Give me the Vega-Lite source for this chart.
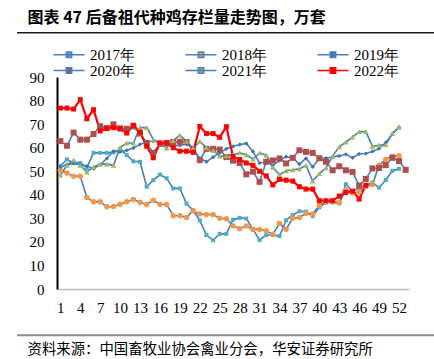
{
  "$schema": "https://vega.github.io/schema/vega-lite/v6.json",
  "width": 352,
  "height": 212,
  "autosize": {"type": "none"},
  "padding": {"left": 57, "top": 77, "right": 25, "bottom": 70},
  "background": "white",
  "config": {"view": {"stroke": null}, "font": "Liberation Serif"},
  "datasets": {
    "weekly": [
    {"wk": 1, "2017年": 52.2, "2018年": 50.4, "2019年": 51.8, "2020年": 62.8, "2021年": 48.3, "2022年": 76.8},
    {"wk": 2, "2017年": 55, "2018年": 49.2, "2019年": 52.8, "2020年": 60.8, "2021年": 52.5, "2022年": 76.8},
    {"wk": 3, "2017年": 53.5, "2018年": 47.9, "2019年": 53.3, "2020年": 66.4, "2021年": 54.7, "2022年": 76.4},
    {"wk": 4, "2017年": 53.5, "2018年": 47.9, "2019年": 52.8, "2020年": 63.4, "2021年": 52.5, "2022年": 80.4},
    {"wk": 5, "2017年": 51.5, "2018年": 38.8, "2019年": 52.2, "2020年": 63.4, "2021年": 49.7, "2022年": 72.3},
    {"wk": 6, "2017年": 57.8, "2018年": 37, "2019年": 51.1, "2020年": 65.8, "2021年": 51.8, "2022年": 76.1},
    {"wk": 7, "2017年": 57.8, "2018年": 37, "2019年": 52.8, "2020年": 69.1, "2021年": 53, "2022年": 67.1},
    {"wk": 8, "2017年": 57.8, "2018年": 34.9, "2019年": 55.4, "2020年": 68.3, "2021年": 53, "2022年": 68.2},
    {"wk": 9, "2017年": 58, "2018年": 35, "2019年": 58.5, "2020年": 69.9, "2021年": 52.5, "2022年": 68.5},
    {"wk": 10, "2017年": 59.3, "2018年": 36, "2019年": 58.2, "2020年": 68.2, "2021年": 60, "2022年": 68},
    {"wk": 11, "2017年": 56.8, "2018年": 37, "2019年": 58.9, "2020年": 68, "2021年": 62, "2022年": 66.2},
    {"wk": 12, "2017年": 54.2, "2018年": 38, "2019年": 59.9, "2020年": 69, "2021年": 62, "2022年": 69.5},
    {"wk": 13, "2017年": 54, "2018年": 36.8, "2019年": 61.4, "2020年": 66, "2021年": 68.5, "2022年": 66.6},
    {"wk": 14, "2017年": 43.4, "2018年": 35.9, "2019年": 62.4, "2020年": 62, "2021年": 68.5, "2022年": 60.6},
    {"wk": 15, "2017年": 46.2, "2018年": 37.7, "2019年": 62.8, "2020年": 57.8, "2021年": 63.5, "2022年": 55.7},
    {"wk": 16, "2017年": 48.6, "2018年": 36, "2019年": 62.2, "2020年": 61.6, "2021年": 62, "2022年": 62},
    {"wk": 17, "2017年": 47, "2018年": 35.9, "2019年": 61.3, "2020年": 62, "2021年": 59.8, "2022年": 62},
    {"wk": 18, "2017年": 42.7, "2018年": 31.1, "2019年": 60.5, "2020年": 62.4, "2021年": 63, "2022年": 60},
    {"wk": 19, "2017年": 42.7, "2018年": 31.1, "2019年": 61, "2020年": 62.5, "2021年": 65.3, "2022年": 58.5},
    {"wk": 20, "2017年": 36.2, "2018年": 30.4, "2019年": 61.5, "2020年": 62.4, "2021年": 62.7, "2022年": 58.5},
    {"wk": 21, "2017年": 33.4, "2018年": 33.2, "2019年": 59.5, "2020年": 59.5, "2021年": 59.6, "2022年": 58},
    {"wk": 22, "2017年": 29.1, "2018年": 31.8, "2019年": 55.5, "2020年": 54.7, "2021年": 62.7, "2022年": 69},
    {"wk": 23, "2017年": 22.9, "2018年": 31.6, "2019年": 54, "2020年": 59.5, "2021年": 60, "2022年": 66},
    {"wk": 24, "2017年": 20.7, "2018年": 31.6, "2019年": 56, "2020年": 59.5, "2021年": 58.9, "2022年": 66},
    {"wk": 25, "2017年": 23.4, "2018年": 30, "2019年": 57.8, "2020年": 59.2, "2021年": 56.4, "2022年": 64.4},
    {"wk": 26, "2017年": 23.4, "2018年": 29.8, "2019年": 59.5, "2020年": 56, "2021年": 56.5, "2022年": 68.9},
    {"wk": 27, "2017年": 29.4, "2018年": 26.8, "2019年": 60.5, "2020年": 54.5, "2021年": 57, "2022年": 56.2},
    {"wk": 28, "2017年": 30.2, "2018年": 25.7, "2019年": 61.3, "2020年": 53.5, "2021年": 57.8, "2022年": 55},
    {"wk": 29, "2017年": 29.9, "2018年": 26.7, "2019年": 61.8, "2020年": 48.7, "2021年": 57, "2022年": 53.5},
    {"wk": 30, "2017年": 25.3, "2018年": 25.4, "2019年": 58.4, "2020年": 49.8, "2021年": 55.2, "2022年": 52.5},
    {"wk": 31, "2017年": 20.8, "2018年": 25.3, "2019年": 53.4, "2020年": 45.5, "2021年": 57.8, "2022年": 50},
    {"wk": 32, "2017年": 22.9, "2018年": 24.7, "2019年": 54, "2020年": 54, "2021年": 56.8, "2022年": 48},
    {"wk": 33, "2017年": 22.9, "2018年": 23.3, "2019年": 52.5, "2020年": 54.6, "2021年": 51.7, "2022年": 44.2},
    {"wk": 34, "2017年": 22.5, "2018年": 27.8, "2019年": 54.5, "2020年": 55.4, "2021年": 48.5, "2022年": 46.5},
    {"wk": 35, "2017年": 29.2, "2018年": 25.4, "2019年": 56.2, "2020年": 53.3, "2021年": 50.2, "2022年": 46.2},
    {"wk": 36, "2017年": 31.4, "2018年": 30, "2019年": 55.6, "2020年": 55.7, "2021年": 50.6, "2022年": 45.8},
    {"wk": 37, "2017年": 33, "2018年": 30.4, "2019年": 53, "2020年": 58.9, "2021年": 51, "2022年": 43.4},
    {"wk": 38, "2017年": 32.8, "2018年": 32.1, "2019年": 55.5, "2020年": 58.2, "2021年": 52.5, "2022年": 42.4},
    {"wk": 39, "2017年": 30.9, "2018年": 31.8, "2019年": 51.8, "2020年": 57.8, "2021年": 45.8, "2022年": 42.4},
    {"wk": 40, "2017年": 34.7, "2018年": 35.5, "2019年": 55.5, "2020年": 55.5, "2021年": 49, "2022年": 37.5},
    {"wk": 41, "2017年": 36.7, "2018年": 37, "2019年": 55.6, "2020年": 54, "2021年": 51.4, "2022年": 37.5},
    {"wk": 42, "2017年": 36.7, "2018年": 37, "2019年": 56, "2020年": 50.4, "2021年": 56.4, "2022年": 37.5},
    {"wk": 43, "2017年": 36.3, "2018年": 36.8, "2019年": 56.5, "2020年": 52.1, "2021年": 60.4, "2022年": 39.4},
    {"wk": 44, "2017年": 44.5, "2018年": 42, "2019年": 57.2, "2020年": 50.4, "2021年": 62.4, "2022年": 41},
    {"wk": 45, "2017年": 41.5, "2018年": 40.8, "2019年": 55.7, "2020年": 49.7, "2021年": 64.5, "2022年": 41.5},
    {"wk": 46, "2017年": 43, "2018年": 41.2, "2019年": 57.4, "2020年": 43.9, "2021年": 66.8, "2022年": 38.2},
    {"wk": 47, "2017年": 44, "2018年": 43.5, "2019年": 57.5, "2020年": 46.7, "2021年": 66.8, "2022年": 44},
    {"wk": 48, "2017年": 45.2, "2018年": 44.4, "2019年": 58.4, "2020年": 51.2, "2021年": 60.6},
    {"wk": 49, "2017年": 43, "2018年": 52.5, "2019年": 59.6, "2020年": 51.4, "2021年": 61},
    {"wk": 50, "2017年": 46.3, "2018年": 55, "2019年": 62.2, "2020年": 52.6, "2021年": 61.3},
    {"wk": 51, "2017年": 50.2, "2018年": 56.4, "2019年": 65.8, "2020年": 55.7, "2021年": 66.1},
    {"wk": 52, "2017年": 51, "2018年": 56.6, "2019年": 68.7, "2020年": 54.3, "2021年": 68.6},
    {"wk": 53, "2020年": 50.6}
    ],
    "frame": [{"line": "source"}],
    "frame2": [{"line": "heading"}]
  },
  "layer": [
    {
      "data": {"name": "weekly"},
      "transform": [
        {"fold": ["2017年", "2018年", "2019年", "2020年", "2021年", "2022年"], "as": ["year", "value"]},
        {"filter": "isValid(datum.value)"}
      ],
      "encoding": {
        "x": {"field": "wk", "type": "quantitative",
          "scale": {"domain": [0.5, 53.5], "nice": false, "zero": false},
          "axis": {
            "values": [1, 4, 7, 10, 13, 16, 19, 22, 25, 28, 31, 34, 37, 40, 43, 46, 49, 52],
            "ticks": false, "grid": false, "domain": true, "domainColor": "#BFBFBF", "domainWidth": 1.5,
            "labelFont": "Liberation Serif", "labelFontSize": 15, "labelColor": "#000000", "labelPadding": 11,
            "labelFlush": false, "labelOverlap": false,
            "title": "资料来源：中国畜牧业协会禽业分会，华安证券研究所",
            "titleFont": "Noto Sans CJK SC", "titleFontSize": 14.4, "titleFontWeight": "normal", "titleColor": "#000000",
            "titleAnchor": "start", "titleAlign": "left", "titleX": -30, "titleY": 64, "titleBaseline": "alphabetic"
          }
        },
        "y": {"field": "value", "type": "quantitative",
          "scale": {"domain": [0, 90], "nice": false, "zero": true},
          "axis": {
            "values": [0, 10, 20, 30, 40, 50, 60, 70, 80, 90],
            "ticks": false, "grid": false, "domain": true, "domainColor": "#000000", "domainWidth": 2,
            "labelFont": "Liberation Serif", "labelFontSize": 15, "labelColor": "#000000", "labelPadding": 13,
            "title": "图表 47  后备祖代种鸡存栏量走势图，万套",
            "titleFont": "Noto Sans CJK SC", "titleFontSize": 16, "titleFontWeight": "bold", "titleColor": "#000000",
            "titleAngle": 0, "titleAnchor": "start", "titleAlign": "left", "titleBaseline": "alphabetic",
            "titleX": -30, "titleY": -55
          }
        }
      },
      "layer": [
        {
          "transform": [{"filter": "datum.year !== '2022年'"}],
          "mark": {"type": "line", "color": "#4A7EBB", "strokeWidth": 1.6},
          "encoding": {"detail": {"field": "year", "type": "nominal"}}
        },
        {
          "transform": [{"filter": "datum.year === '2022年'"}],
          "mark": {"type": "line", "color": "#FF0000", "strokeWidth": 2.2}
        },
        {
          "transform": [{"filter": "datum.year === '2017年'"}],
          "mark": {"type": "point", "filled": true, "opacity": 1, "shape": "square", "size": 16},
          "encoding": {"color": {"field": "year", "type": "nominal"}}
        },
        {
          "transform": [{"filter": "datum.year === '2018年'"}],
          "mark": {"type": "point", "filled": true, "opacity": 1, "shape": "circle", "size": 30},
          "encoding": {"color": {"field": "year", "type": "nominal"}}
        },
        {
          "transform": [{"filter": "datum.year === '2019年'"}],
          "mark": {"type": "point", "filled": true, "opacity": 1, "shape": "diamond", "size": 18},
          "encoding": {"color": {"field": "year", "type": "nominal"}}
        },
        {
          "transform": [{"filter": "datum.year === '2020年'"}],
          "mark": {"type": "point", "filled": true, "opacity": 1, "shape": "square", "size": 36},
          "encoding": {"color": {"field": "year", "type": "nominal"}}
        },
        {
          "transform": [{"filter": "datum.year === '2021年'"}],
          "mark": {"type": "point", "filled": true, "opacity": 1, "shape": "triangle-up", "size": 32},
          "encoding": {"color": {"field": "year", "type": "nominal"}}
        },
        {
          "transform": [{"filter": "datum.year === '2022年'"}],
          "mark": {"type": "point", "filled": true, "opacity": 1, "shape": "square", "size": 25},
          "encoding": {"color": {"field": "year", "type": "nominal",
            "scale": {"domain": ["2017年", "2018年", "2019年", "2020年", "2021年", "2022年"],
                      "range": ["#4BACC6", "#F79646", "#3F73B8", "#AE4F4D", "#9BBB59", "#FF0000"]},
            "legend": {
              "orient": "none", "legendX": 4.5, "legendY": -30, "columns": 3, "direction": "horizontal",
              "title": null, "padding": 0,
              "symbolType": "M-3.1,0H3.1M-0.55,-0.55H0.55V0.55H-0.55Z", "symbolSize": 100,
              "symbolStrokeWidth": 1.4,
              "symbolStrokeColor": {"expr": "datum.value === '2022年' ? '#FF0000' : '#4A7EBB'"},
              "labelOffset": 13.5, "columnPadding": 47, "rowPadding": -1,
              "labelFont": "Liberation Serif", "labelFontSize": 15, "labelColor": "#000000"
            }
          }}
        }
      ]
    },
    {
      "data": {"name": "frame"},
      "mark": {"type": "rule", "clip": false, "color": "#8C8C8C", "strokeWidth": 2},
      "encoding": {
        "x": {"datum": -5.52, "type": "quantitative",
          "axis": {
            "values": [1, 4, 7, 10, 13, 16, 19, 22, 25, 28, 31, 34, 37, 40, 43, 46, 49, 52],
            "ticks": false, "grid": false, "domain": true, "domainColor": "#BFBFBF", "domainWidth": 1.5,
            "labelFont": "Liberation Serif", "labelFontSize": 15, "labelColor": "#000000", "labelPadding": 11,
            "labelFlush": false, "labelOverlap": false,
            "title": "资料来源：中国畜牧业协会禽业分会，华安证券研究所",
            "titleFont": "Noto Sans CJK SC", "titleFontSize": 14.4, "titleFontWeight": "normal", "titleColor": "#000000",
            "titleAnchor": "start", "titleAlign": "left", "titleX": -30, "titleY": 64, "titleBaseline": "alphabetic"
          }
        },
        "x2": {"datum": 57.3},
        "y": {"datum": -19.6, "type": "quantitative",
          "axis": {
            "values": [0, 10, 20, 30, 40, 50, 60, 70, 80, 90],
            "ticks": false, "grid": false, "domain": true, "domainColor": "#000000", "domainWidth": 2,
            "labelFont": "Liberation Serif", "labelFontSize": 15, "labelColor": "#000000", "labelPadding": 13,
            "title": "图表 47  后备祖代种鸡存栏量走势图，万套",
            "titleFont": "Noto Sans CJK SC", "titleFontSize": 16, "titleFontWeight": "bold", "titleColor": "#000000",
            "titleAngle": 0, "titleAnchor": "start", "titleAlign": "left", "titleBaseline": "alphabetic",
            "titleX": -30, "titleY": -55
          }
        }
      }
    },
    {
      "data": {"name": "frame2"},
      "mark": {"type": "rule", "clip": false, "color": "#1A1A1A", "strokeWidth": 1.5, "opacity": 1},
      "encoding": {
        "x": {"datum": -5.52, "type": "quantitative",
          "axis": {
            "values": [1, 4, 7, 10, 13, 16, 19, 22, 25, 28, 31, 34, 37, 40, 43, 46, 49, 52],
            "ticks": false, "grid": false, "domain": true, "domainColor": "#BFBFBF", "domainWidth": 1.5,
            "labelFont": "Liberation Serif", "labelFontSize": 15, "labelColor": "#000000", "labelPadding": 11,
            "labelFlush": false, "labelOverlap": false,
            "title": "资料来源：中国畜牧业协会禽业分会，华安证券研究所",
            "titleFont": "Noto Sans CJK SC", "titleFontSize": 14.4, "titleFontWeight": "normal", "titleColor": "#000000",
            "titleAnchor": "start", "titleAlign": "left", "titleX": -30, "titleY": 64, "titleBaseline": "alphabetic"
          }
        },
        "x2": {"datum": 57.3},
        "y": {"datum": 108.8, "type": "quantitative",
          "axis": {
            "values": [0, 10, 20, 30, 40, 50, 60, 70, 80, 90],
            "ticks": false, "grid": false, "domain": true, "domainColor": "#000000", "domainWidth": 2,
            "labelFont": "Liberation Serif", "labelFontSize": 15, "labelColor": "#000000", "labelPadding": 13,
            "title": "图表 47  后备祖代种鸡存栏量走势图，万套",
            "titleFont": "Noto Sans CJK SC", "titleFontSize": 16, "titleFontWeight": "bold", "titleColor": "#000000",
            "titleAngle": 0, "titleAnchor": "start", "titleAlign": "left", "titleBaseline": "alphabetic",
            "titleX": -30, "titleY": -55
          }
        }
      }
    }
  ]
}
